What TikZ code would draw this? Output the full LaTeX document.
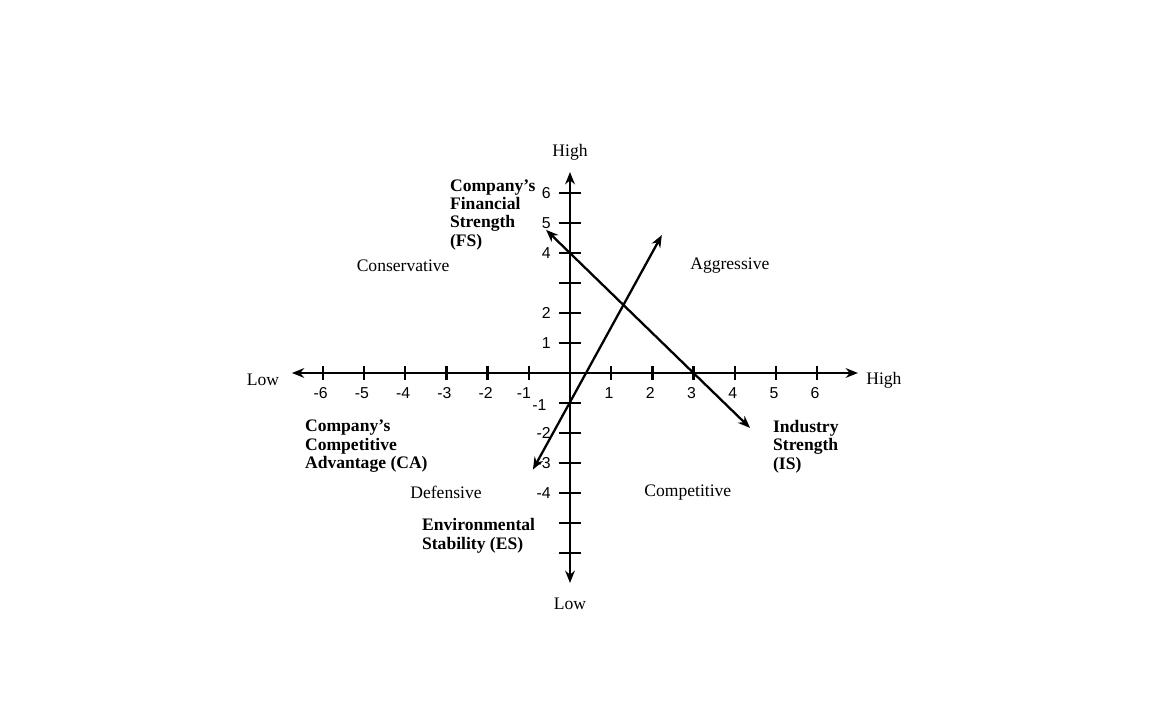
\documentclass[tikz,border=0pt]{standalone}
\usepackage{fontspec}
\setmainfont{Liberation Serif}
\newfontfamily\numfont{Liberation Sans}
\usetikzlibrary{arrows.meta, positioning}

\begin{document}
\begin{tikzpicture}[x=0.824cm, y=0.6cm, line width=1.3pt,
    >={Stealth[length=7pt, width=5.5pt]},
    every node/.style={font=\fontsize{10}{11}\selectfont, inner sep=1pt},
    num/.style={font=\numfont\fontsize{9}{10}\selectfont},
    factor/.style={font=\bfseries\fontsize{10}{10.5}\selectfont, align=left, anchor=north west}]
    \useasboundingbox (-11.4cm,-6.94cm) rectangle (11.64cm,7.46cm);

    % axes
    \coordinate (xl) at (-6.75,0);
    \coordinate (xr) at (6.99,0);
    \coordinate (yb) at (0,-7);
    \coordinate (yt) at (0,6.7);
    \draw[<->] (xl) -- (xr);
    \draw[<->] (yb) -- (yt);

    % ticks and numbers
    \foreach \i in {-6,...,-1,1,2,...,6}
        \draw (\i,-0.23) -- (\i,0.23);
    \foreach \i in {-6,...,-2,1,2,...,6}
        \node[num] (xn\i) at (\i-0.05,-0.67) {\i};
    \node[num] (xn-1) at (-1.12,-0.67) {-1};
    \foreach \j in {-6,...,-1,1,2,...,6}
        \draw (-0.27,\j) -- (0.27,\j);
    \foreach \j in {6,5,4,2,1,-2,-3,-4}
        \node[num, anchor=east] (yn\j) at (-0.4,\j) {\j};
    \node[num, anchor=east] (yn-1) at (-0.5,-1.08) {-1};

    % axis ends
    \node (yhi) at (0,7.37) {High};
    \node (ylo) at (0,-7.7) {Low};
    \node (xlo) at (-7.45,-0.23) {Low};
    \node (xhi) at (7.62,-0.23) {High};

    % the two vectors
    \coordinate (fs) at (-0.58,4.77);
    \coordinate (is) at (4.37,-1.83);
    \coordinate (ca) at (-0.9,-3.22);
    \coordinate (es) at (2.23,4.6);
    \draw[<->] (fs) -- (is);
    \draw[<->] (ca) -- (es);

    % quadrants
    \node (cons) at (-4.05,3.57) {Conservative};
    \node (aggr) at (3.88,3.57) {Aggressive};
    \node (defn) at (-3.01,-3.97) {Defensive};
    \node (comp) at (2.86,-3.97) {Competitive};

    % dimensions
    \node[factor] (fsl) at (-2.98,6.55) {Company's\\Financial\\Strength\\(FS)};
    \node[factor] (cal) at (-6.5,-1.47) {Company's\\Competitive\\Advantage (CA)};
    \node[factor] (isl) at (4.86,-1.47) {Industry\\Strength\\(IS)};
    \node[factor] (esl) at (-3.66,-4.75) {Environmental\\Stability (ES)};
\end{tikzpicture}
\end{document}
